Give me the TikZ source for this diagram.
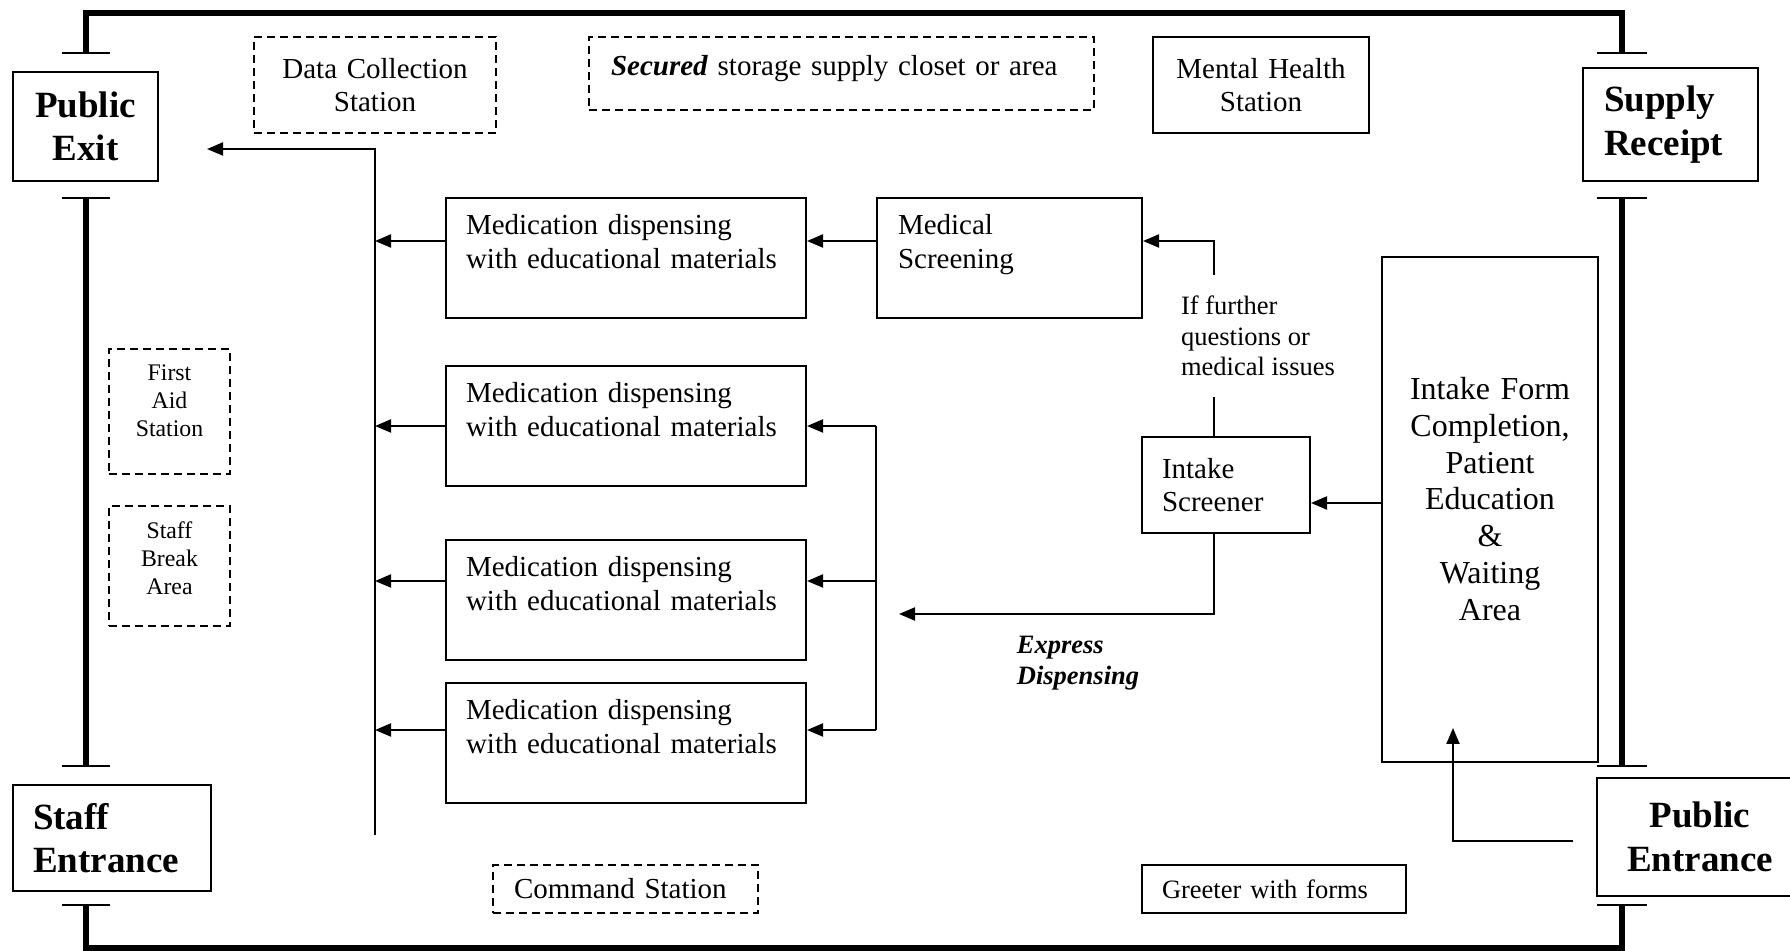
\documentclass[tikz,border=0pt]{standalone}
\usepackage{fontspec}
\setmainfont{Liberation Serif}
\usetikzlibrary{arrows.meta,positioning,calc}
\definecolor{ink}{HTML}{000000}
\tikzset{
  body/.style={font=\fontsize{14.5}{16.8}\selectfont,text=ink},
  small/.style={font=\fontsize{13.25}{15.4}\selectfont,text=ink},
  tiny/.style={font=\fontsize{11.9}{13.8}\selectfont,text=ink},
  big/.style={font=\fontsize{16}{18.4}\selectfont,text=ink},
  doorlabel/.style={font=\bfseries\fontsize{18.5}{21.7}\selectfont,text=ink},
  express/.style={font=\bfseries\itshape\fontsize{13.25}{15.4}\selectfont,text=ink},
  box/.style={draw=ink,line width=1pt,inner sep=0pt,fill=white},
  dbox/.style={box,dash pattern=on 4pt off 2.5pt},
  medbox/.style={box,body,minimum width=180pt,minimum height=60pt,text width=160pt,inner xsep=10pt,align=left,text height=11pt,text depth=34pt},
  wall/.style={draw=ink,line width=2.75pt,line join=miter},
  jamb/.style={draw=ink,line width=1pt},
  wire/.style={draw=ink,line width=1pt},
  arr/.style={-{Triangle[length=8pt,width=6.5pt]},draw=ink,line width=1pt}
}

\begin{document}
\begin{tikzpicture}[x=0.5pt,y=-0.5pt]
\useasboundingbox (0,0) rectangle (1790,951);
\fill[white] (0,0) rectangle (1790,951);

% outer walls with door openings
\draw[wall] (86,53) -- (86,13) -- (1622,13) -- (1622,53);
\draw[wall] (86,198) -- (86,766);
\draw[wall] (1622,198) -- (1622,766);
\draw[wall] (86,905) -- (86,948) -- (1622,948) -- (1622,905);
\foreach \y in {53,198,766,905} {
  \draw[jamb] (62,\y) -- (110,\y);
  \draw[jamb] (1597,\y) -- (1647,\y);
}

% doors
\node[box,doorlabel,minimum width=72.5pt,minimum height=54.5pt,text width=72.5pt,align=center] (pexit) at (85.5,126.5) {Public\\Exit};
\node[box,doorlabel,minimum width=99pt,minimum height=53pt,text width=79pt,inner xsep=10pt,align=left] (sentr) at (112,838) {Staff\\Entrance};
\node[box,doorlabel,minimum width=87.5pt,minimum height=56.5pt,text width=66.5pt,inner xsep=10.5pt,align=left] (srec) at (1670.5,124.5) {Supply\\Receipt};
\node[box,doorlabel,minimum width=103pt,minimum height=59pt,text width=103pt,align=center] (pentr) at (1700,837) {Public\\Entrance};

% stations
\node[dbox,body,minimum width=121pt,minimum height=48pt,text width=121pt,align=center] (dcs) at (375,85) {Data Collection\\Station};
\node[dbox,body,minimum width=252.5pt,minimum height=36.5pt,text width=230.5pt,inner xsep=11pt,align=left,text height=10pt,text depth=8pt] (sto) at (841.5,73.5) {\textbf{\textit{Secured}} storage supply closet or area};
\node[box,body,minimum width=108pt,minimum height=48pt,text width=108pt,align=center] (mhs) at (1261,85) {Mental Health\\Station};
\node[dbox,tiny,minimum width=60.5pt,minimum height=62.5pt,text width=60.5pt,align=center,text height=8.5pt,text depth=39pt] (fas) at (169.5,411.5) {First\\Aid\\Station};
\node[dbox,tiny,minimum width=60.5pt,minimum height=60pt,text width=60.5pt,align=center,text height=8.5pt,text depth=35.5pt] (sba) at (169.5,566) {Staff\\Break\\Area};
\node[dbox,body,minimum width=132.5pt,minimum height=24pt,text width=111.5pt,inner xsep=10.5pt,align=left] (cmd) at (625.5,889) {Command Station};
\node[box,small,minimum width=132pt,minimum height=24pt,text width=112pt,inner xsep=10pt,align=left] (grt) at (1274,889) {Greeter with forms};

% patient flow
\node[medbox] (med1) at (626,258) {Medication dispensing\\with educational materials};
\node[medbox] (med2) at (626,426) {Medication dispensing\\with educational materials};
\node[medbox] (med3) at (626,600) {Medication dispensing\\with educational materials};
\node[medbox] (med4) at (626,743) {Medication dispensing\\with educational materials};
\node[medbox,minimum width=132.5pt,text width=111.5pt,inner xsep=10.5pt] (ms) at (1009.5,258) {Medical\\Screening};
\node[box,body,minimum width=84pt,minimum height=48pt,text width=64pt,inner xsep=10pt,align=left] (scr) at (1226,485) {Intake\\Screener};
\node[box,big,minimum width=108pt,minimum height=252.5pt,text width=108pt,align=center,text height=11pt,text depth=121pt] (intake) at (1490,509.5) {Intake Form\\Completion,\\Patient\\Education\\\&\\Waiting\\Area};
\node[small,align=left,inner xsep=0pt,inner ysep=10pt] (ifq) at (1258,336) {If further\\questions or\\medical issues};
\node[express,align=left,inner sep=0pt] (exd) at (1078,663.5) {Express\\Dispensing};

% collection line to the exit
\coordinate (trunkbot) at (375,835);
\coordinate (trunktop) at (375,149);
\coordinate (exitpt) at (207,149);
\draw[arr] (trunkbot) -- (trunktop) -- (exitpt);

\coordinate (d1) at ([yshift=8.5pt]med1.west);
\coordinate (d2) at (med2.west);
\coordinate (d3) at ([yshift=9.5pt]med3.west);
\coordinate (d4) at ([yshift=6.5pt]med4.west);
\foreach \i in {1,...,4} \draw[arr] (d\i) -- (d\i -| trunktop);

\draw[arr] (d1 -| ms.west) -- (d1 -| med1.east);
\draw[wire] (d2 -| ms.west) -- (d4 -| ms.west);
\foreach \i in {2,3,4} \draw[arr] (d\i -| ms.west) -- (d\i -| med\i.east);

\coordinate (fb) at ([xshift=-6pt]scr.north);
\draw[wire] (fb) -- (fb |- ifq.south);
\draw[arr] (fb |- ifq.north) |- (d1 -| ms.east);

\coordinate (d5) at ([yshift=3.25pt]intake.west);
\draw[arr] (d5) -- (d5 -| scr.east);

\coordinate (xp) at (899,614);
\draw[arr] (fb |- scr.south) |- (xp);

\coordinate (pe) at ([xshift=-11.5pt,yshift=-2pt]pentr.west);
\coordinate (petip) at ([xshift=-18.5pt,yshift=17.5pt]intake.south);
\draw[arr] (pe) -| (petip);
\end{tikzpicture}
\end{document}
